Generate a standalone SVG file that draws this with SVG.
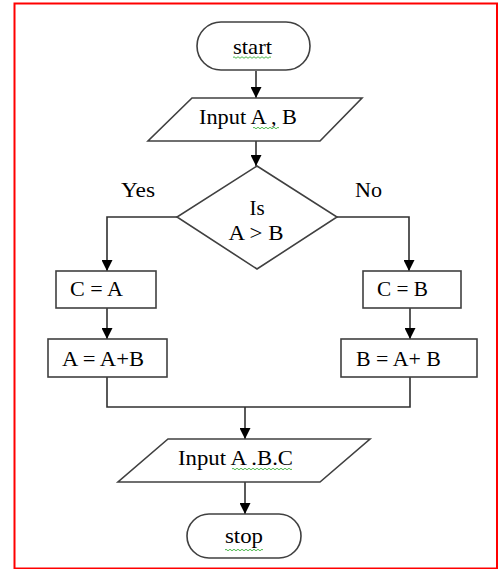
<svg xmlns="http://www.w3.org/2000/svg" width="501" height="569" viewBox="0 0 501 569" font-family="'Liberation Serif', 'DejaVu Serif', serif">
<style>
.shape{fill:#fff;stroke:#404040;stroke-width:1.6}
.conn{fill:none;stroke:#303030;stroke-width:1.6}
text{font-family:"Liberation Serif","DejaVu Serif",serif;font-size:21px;fill:#000}
.wavy{fill:none;stroke:#3ab03a;stroke-width:0.9}
</style>
<defs>
<marker id="arr" viewBox="0 0 10 10" refX="10" refY="5" markerWidth="11" markerHeight="11" markerUnits="userSpaceOnUse" orient="auto">
<path d="M0,0 L10,5 L0,10 z" fill="#000"/>
</marker>
</defs>
<rect x="14.5" y="3.5" width="482.5" height="565" fill="#fff" stroke="#f00" stroke-width="2"/>
<g id="connectors">
<path class="conn" d="M256,71 V98" marker-end="url(#arr)"/>
<path class="conn" d="M256,141 V166" marker-end="url(#arr)"/>
<path class="conn" d="M177,217 H107 V271" marker-end="url(#arr)"/>
<path class="conn" d="M337,217 H409 V271" marker-end="url(#arr)"/>
<path class="conn" d="M107,308 V339" marker-end="url(#arr)"/>
<path class="conn" d="M410,308 V339" marker-end="url(#arr)"/>
<path class="conn" d="M107,377 V407 H410 V377"/>
<path class="conn" d="M245,407 V439" marker-end="url(#arr)"/>
<path class="conn" d="M245,482 V514" marker-end="url(#arr)"/>
</g>
<g id="start">
<rect class="shape" x="197" y="22" width="113" height="48" rx="24" ry="24"/>
<text x="233" y="54" textLength="39" lengthAdjust="spacingAndGlyphs">start</text>
<path class="wavy" d="M233,57.5 q1,-1.5 2,0 t2,0 t2,0 t2,0 t2,0 t2,0 t2,0 t2,0 t2,0 t2,0 t2,0 t2,0 t2,0 t2,0 t2,0 t2,0 t2,0 t2,0 t2,0"/>
</g>
<g id="inputAB">
<polygon class="shape" points="192,98 362,98 320,141 148,141"/>
<text x="199" y="124" textLength="98" lengthAdjust="spacingAndGlyphs">Input A , B</text>
<path class="wavy" d="M253,128 q1,-1.5 2,0 t2,0 t2,0 t2,0 t2,0 t2,0 t2,0 t2,0 t2,0 t2,0 t2,0 t2,0 t2,0"/>
</g>
<g id="decision">
<polygon class="shape" points="257,166 337,217 257,269 177,217"/>
<text x="257" y="215" text-anchor="middle">Is</text>
<text x="256" y="240" text-anchor="middle" textLength="55" lengthAdjust="spacingAndGlyphs">A &gt; B</text>
</g>
<g id="yesLabel"><text x="121" y="197" textLength="34" lengthAdjust="spacingAndGlyphs">Yes</text></g>
<g id="noLabel"><text x="355" y="197" textLength="27" lengthAdjust="spacingAndGlyphs">No</text></g>
<g id="cEqA">
<rect class="shape" x="56" y="271" width="100" height="37"/>
<text x="70" y="296" textLength="53" lengthAdjust="spacingAndGlyphs">C = A</text>
</g>
<g id="cEqB">
<rect class="shape" x="363" y="271" width="98" height="37"/>
<text x="377" y="296" textLength="51" lengthAdjust="spacingAndGlyphs">C = B</text>
</g>
<g id="aEqAB">
<rect class="shape" x="48" y="339" width="119" height="38"/>
<text x="62" y="366" textLength="82" lengthAdjust="spacingAndGlyphs">A = A+B</text>
</g>
<g id="bEqAB">
<rect class="shape" x="341" y="339" width="136" height="38"/>
<text x="356" y="366" textLength="85" lengthAdjust="spacingAndGlyphs">B = A+ B</text>
</g>
<g id="inputABC">
<polygon class="shape" points="168,439 370,439 320,482 118,482"/>
<text x="178" y="465" textLength="115" lengthAdjust="spacingAndGlyphs">Input A .B.C</text>
<path class="wavy" d="M232,469 q1,-1.5 2,0 t2,0 t2,0 t2,0 t2,0 t2,0 t2,0 t2,0 t2,0 t2,0 t2,0 t2,0 t2,0 t2,0 t2,0 t2,0 t2,0 t2,0 t2,0 t2,0 t2,0 t2,0 t2,0 t2,0 t2,0 t2,0 t2,0 t2,0 t2,0 t2,0"/>
</g>
<g id="stop">
<rect class="shape" x="187" y="514" width="114" height="44" rx="22" ry="22"/>
<text x="225" y="543" textLength="38" lengthAdjust="spacingAndGlyphs">stop</text>
<path class="wavy" d="M225,550 q1,-1.5 2,0 t2,0 t2,0 t2,0 t2,0 t2,0 t2,0 t2,0 t2,0 t2,0 t2,0 t2,0 t2,0 t2,0 t2,0 t2,0 t2,0 t2,0 t2,0"/>
</g>
</svg>
